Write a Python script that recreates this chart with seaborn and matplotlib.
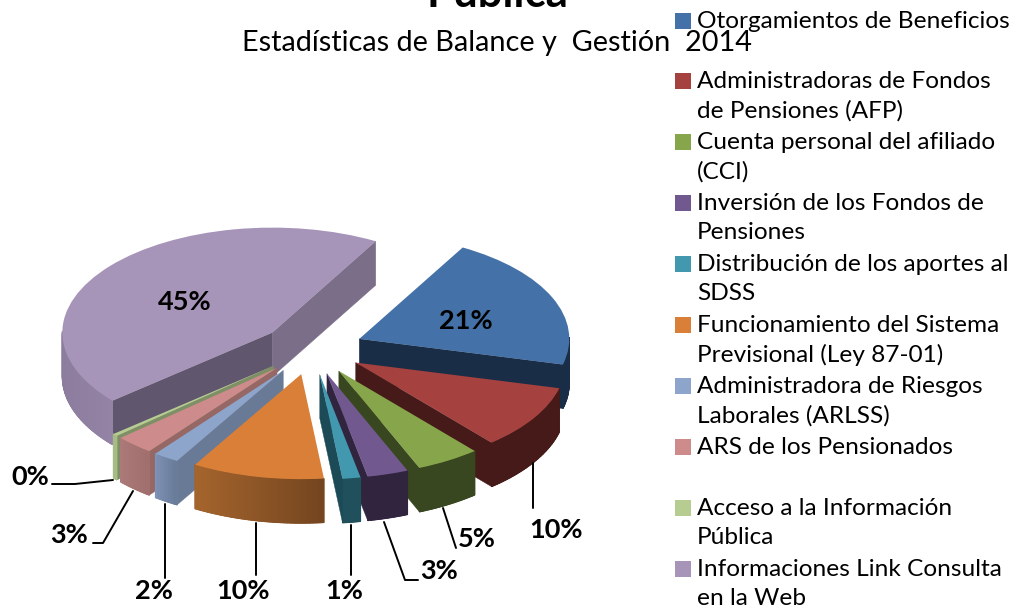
import numpy as np
import matplotlib
matplotlib.use("Agg")
import matplotlib.pyplot as plt
from matplotlib.colors import to_rgb
import seaborn as sns

# values, slice order as in the legend
categories = ["Otorgamientos de Beneficios",
              "Administradoras de Fondos\nde Pensiones (AFP)",
              "Cuenta personal del afiliado\n(CCI)",
              "Inversión de los Fondos de\nPensiones",
              "Distribución de los aportes al\nSDSS",
              "Funcionamiento del Sistema\nPrevisional (Ley 87-01)",
              "Administradora de Riesgos\nLaborales (ARLSS)",
              "ARS de los Pensionados",
              "Acceso a la Información\nPública",
              "Informaciones Link Consulta\nen la Web"]
values = [21, 10, 5, 3.2, 1.4, 10.3, 2, 3, 0.4, 45]
pct_labels = ["21%", "10%", "5%", "3%", "1%", "10%", "2%", "3%", "0%", "45%"]

top_colors = ["#4471A7", "#A5423F", "#87A54A", "#71588F", "#4198AF",
              "#D97F38", "#8EA5CB", "#CD8C8B", "#B6CC91", "#A794B9"]
wall_colors = ["#1A2D47", "#451A18", "#384720", "#30243F", "#1C4A57",
               "#744520", "#687A96", "#956765", "#7F8F65", "#7A6E88"]
wall_colors_2 = ["#1A2D47", "#451A18", "#384720", "#30243F", "#1C4A57",
                 "#744520", "#687A96", "#956765", "#7F8F65", "#60566D"]
rim_left = ["#1A2D47", "#451A18", "#384720", "#30243F", "#1F505C",
            "#A5652D", "#7F93B8", "#AC7A78", "#A6BB85", "#8C7C9E"]
rim_right = ["#1A2D47", "#451A18", "#384720", "#30243F", "#1F505C",
             "#744520", "#687A96", "#A06E6C", "#A6BB85", "#9483A5"]

# pie geometry in pixels
cx, cy = 312, 349
rx, ry = 210, 105
depth = 44 / ry

sns.set_theme(style="white")
plt.rcParams["font.family"] = ["Lato", "DejaVu Sans"]
plt.rcParams["text.color"] = "black"

fig = plt.figure(figsize=(10.16, 6.14), dpi=100)
ax = fig.add_axes([0, 0, 1, 1])

wedges, _ = ax.pie(values, colors=top_colors, startangle=60.5, counterclock=False,
                   explode=[0.245] * len(values), wedgeprops={"linewidth": 0, "zorder": 3})

def side_poly(t1, t2, c):
    # strip hanging below the arc between two angles
    t = np.radians(np.linspace(t1, t2, max(int(abs(t2 - t1)), 2)))
    x = c[0] + np.cos(t)
    y = c[1] + np.sin(t)
    return np.r_[x, x[::-1]], np.r_[y, y[::-1] - depth]

def wall_poly(t, c):
    a = np.radians(t)
    x = [c[0], c[0] + np.cos(a), c[0] + np.cos(a), c[0]]
    y = [c[1], c[1] + np.sin(a), c[1] + np.sin(a) - depth, c[1] - depth]
    return x, y

# back slices first
for i in sorted(range(len(wedges)), key=lambda k: -wedges[k].center[1]):
    w = wedges[i]
    c = w.center
    t1, t2 = w.theta1, w.theta2
    if np.sin(np.radians(t2 + 90)) < 0:
        x, y = wall_poly(t2, c)
        ax.fill(x, y, color=wall_colors_2[i], lw=0.3, zorder=1)
    steps = np.linspace(t1, t2, int(abs(t2 - t1)) + 2)
    steps = steps[np.sin(np.radians(steps)) < 0.02]
    if len(steps) > 1:
        cosv = np.cos(np.radians(steps))
        lo, hi = np.array(to_rgb(rim_left[i])), np.array(to_rgb(rim_right[i]))
        # base strip so the shaded pieces leave no seams
        x, y = side_poly(steps[0], steps[-1], c)
        ax.fill(x, y, color=(lo + hi) / 2, lw=0.5, zorder=1)
        for a, b in zip(steps[:-1], steps[1:]):
            f = (np.cos(np.radians((a + b) / 2)) - cosv.min()) / max(np.ptp(cosv), 1e-6)
            x, y = side_poly(a, b, c)
            ax.fill(x, y, color=lo + (hi - lo) * f, lw=0.8, zorder=1)
    if np.sin(np.radians(t1 - 90)) < 0:
        x, y = wall_poly(t1, c)
        ax.fill(x, y, color=wall_colors[i], lw=0.3, zorder=1)

ax.set_aspect("auto")
ax.set_xlim(-cx / rx, (1016 - cx) / rx)
ax.set_ylim((cy - 614) / ry, cy / ry)
ax.axis("off")

# overlay in pixel coordinates for text
over = fig.add_axes([0, 0, 1, 1], facecolor="none")
over.set_xlim(0, 1016)
over.set_ylim(614, 0)
over.axis("off")

over.text(497, 7, "Pública", fontsize=31.5, fontweight="bold", ha="center", va="baseline", clip_on=False)
over.text(497, 51, "Estadísticas de Balance y  Gestión  2014", fontsize=20.8, ha="center", va="baseline")

label_pos = [(466, 321), (556, 530), (477, 539), (439, 571), (344, 591),
             (243, 591), (154, 591), (69, 535), (30, 477), (185, 302)]
for lab, (x, y) in zip(pct_labels, label_pos):
    over.text(x, y, lab, fontsize=19.5, fontweight="bold", ha="center", va="center", zorder=6)

leaders = [[(533, 463), (533, 508)],
           [(443, 508), (456, 548)],
           [(384, 522), (405, 580), (418, 580)],
           [(351, 525), (351, 575)],
           [(256, 523), (256, 575)],
           [(165, 504), (165, 578)],
           [(133, 491), (103, 543), (93, 543)],
           [(113, 480), (75, 484), (52, 484)]]
for pts in leaders:
    over.plot(*zip(*pts), color="black", lw=1.4, zorder=5)

legend_y = [21, 81, 142, 203, 264, 325, 386, 447, 508, 569]
for name, col, y in zip(categories, top_colors, legend_y):
    over.scatter([683], [y], marker="s", s=125, color=col, linewidths=0, zorder=6)
    over.text(697, y - 10, name, fontsize=17.6, ha="left", va="top", linespacing=1.46, zorder=6)

fig.savefig("out.png", dpi=100)
